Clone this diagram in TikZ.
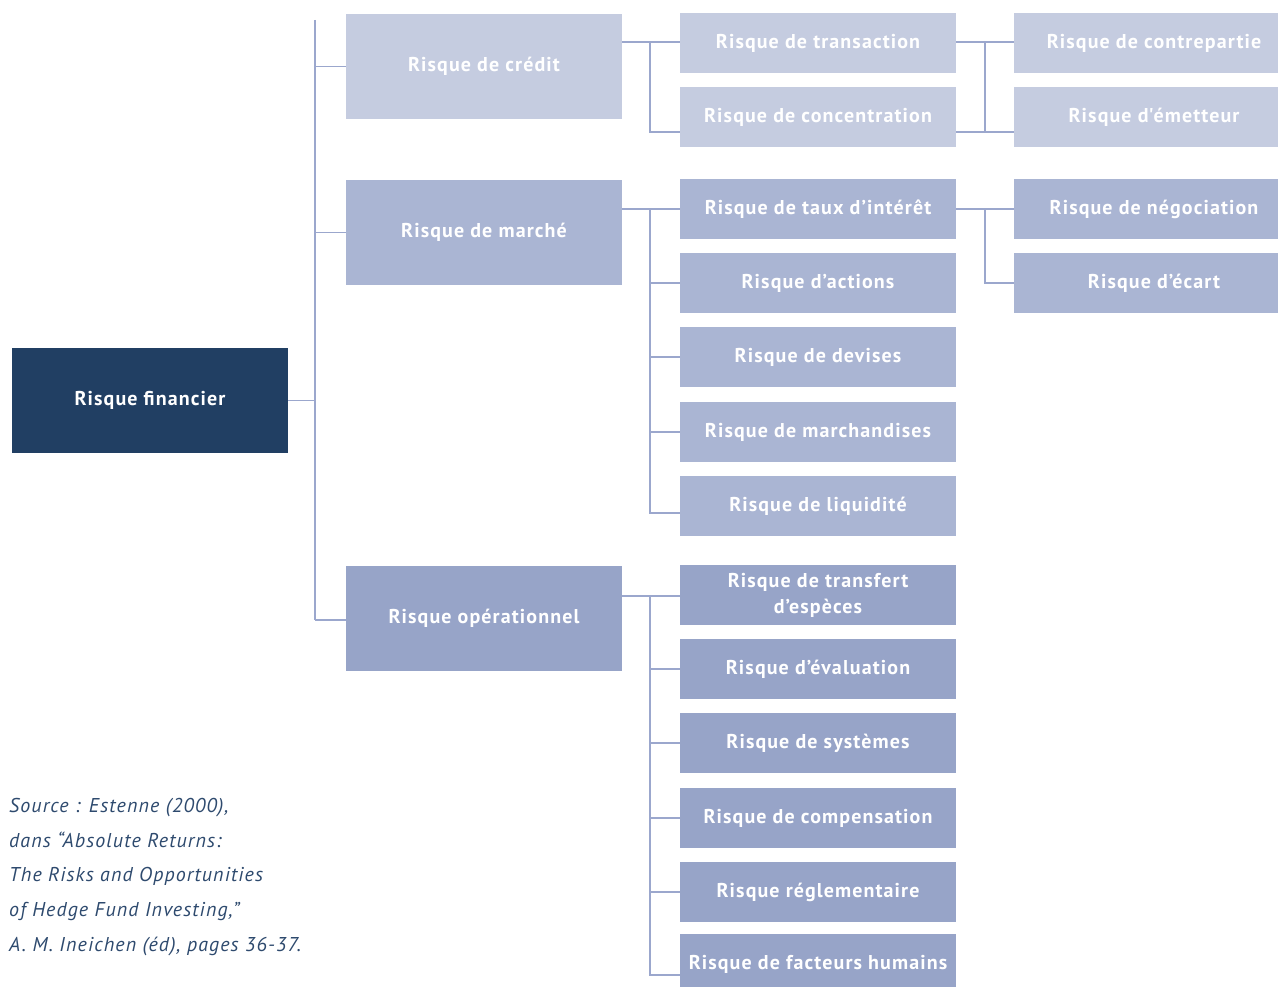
\documentclass[tikz,border=0pt]{standalone}
\usepackage{fontspec}
\setmainfont{PT Sans}[LetterSpace=5.5]
\usetikzlibrary{calc}
\definecolor{cA}{HTML}{C5CCE0}
\definecolor{cB}{HTML}{AAB5D3}
\definecolor{cC}{HTML}{97A4C8}
\definecolor{cD}{HTML}{213F63}
\definecolor{cL}{HTML}{9BA7CD}
\definecolor{cT}{HTML}{2E4A6E}
\tikzset{
  rbox/.style={rectangle, inner sep=0pt, outer sep=0pt, anchor=north west,
    text=white, font=\fontsize{20}{27}\selectfont\bfseries, align=center},
  big/.style={rbox, minimum width=276pt, minimum height=105pt},
  small/.style={rbox, minimum width=276pt, minimum height=60pt},
  third/.style={rbox, minimum width=280pt, minimum height=60pt},
  link/.style={draw=cL, line width=1.8pt},
  captxt/.style={anchor=base west, inner sep=0pt, text=cT, font=\fontsize{20}{24}\selectfont\itshape}
}
\begin{document}
\begin{tikzpicture}[x=1pt,y=-1pt]
\useasboundingbox (0,0) rectangle (1278,987);
% root
\node[big, fill=cD] (fin) at (12,348) {Risque financier};
% level 1
\node[big, fill=cA] (cred) at (346,14) {Risque de crédit};
\node[big, fill=cB] (march) at (346,180) {Risque de marché};
\node[big, fill=cC] (oper) at (346,566) {Risque opérationnel};
% level 2 credit
\node[small, fill=cA] (trans) at (680,13) {Risque de transaction};
\node[small, fill=cA] (conc) at (680,87) {Risque de concentration};
% level 2 market
\node[small, fill=cB] (taux) at (680,179) {Risque de taux d’intérêt};
\node[small, fill=cB] (act) at (680,253) {Risque d’actions};
\node[small, fill=cB] (dev) at (680,327) {Risque de devises};
\node[small, fill=cB] (marchand) at (680,402) {Risque de marchandises};
\node[small, fill=cB] (liq) at (680,476) {Risque de liquidité};
% level 2 operational
\node[small, fill=cC] (transf) at (680,565) {Risque de transfert\\[-1pt]d’espèces};
\node[small, fill=cC] (eval) at (680,639) {Risque d’évaluation};
\node[small, fill=cC] (sys) at (680,713) {Risque de systèmes};
\node[small, fill=cC] (comp) at (680,788) {Risque de compensation};
\node[small, fill=cC] (regl) at (680,862) {Risque réglementaire};
\node[small, fill=cC] (hum) at (680,934) {Risque de facteurs humains};
% level 3
\node[third, fill=cA] (contre) at (1014,13) {Risque de contrepartie};
\node[third, fill=cA] (emet) at (1014,87) {Risque d\textquotesingle émetteur};
\node[third, fill=cB] (nego) at (1014,179) {Risque de négociation};
\node[third, fill=cB] (ecart) at (1014,253) {Risque d’écart};
% trunk
\coordinate (t0) at (315,20);
\coordinate (t1) at (315,620);
\draw[link] (t0) -- (t1);
\draw[link] (fin.east) -- (fin.east -| t0);
\draw[link] (cred.west -| t0) -- (cred.west);
\draw[link] (march.west -| t0) -- (march.west);
\draw[link] (oper.west |- t1) -- (t1);
% credit -> children
\coordinate (ca) at (650,42);
\coordinate (cb) at (650,132);
\draw[link] (cred.east |- ca) -- (trans.west |- ca);
\draw[link] (ca) -- (cb) -- (conc.west |- cb);
% transaction -> level 3
\coordinate (da) at (985,42);
\coordinate (db) at (985,132);
\draw[link] (trans.east |- da) -- (contre.west |- da);
\draw[link] (da) -- (db);
\draw[link] (conc.east |- db) -- (emet.west |- db);
% market -> children
\coordinate (ma) at (650,209);
\coordinate (mb) at (650,513);
\draw[link] (march.east |- ma) -- (taux.west |- ma);
\draw[link] (ma) -- (mb) -- (liq.west |- mb);
\draw[link] (act.west -| ma) -- (act.west);
\draw[link] (dev.west -| ma) -- (dev.west);
\draw[link] (marchand.west -| ma) -- (marchand.west);
% taux -> level 3
\coordinate (na) at (985,209);
\coordinate (nb) at (985,283);
\draw[link] (taux.east |- na) -- (nego.west |- na);
\draw[link] (na) -- (nb) -- (ecart.west |- nb);
% operational -> children
\coordinate (oa) at (650,596);
\coordinate (ob) at (650,975);
\draw[link] (oper.east |- oa) -- (transf.west |- oa);
\draw[link] (oa) -- (ob) -- (hum.west |- ob);
\draw[link] (eval.west -| oa) -- (eval.west);
\draw[link] (sys.west -| oa) -- (sys.west);
\draw[link] (comp.west -| oa) -- (comp.west);
\draw[link] (regl.west -| oa) -- (regl.west);
% caption
\node[captxt] (s1) at (9,812) {Source : Estenne (2000),};
\node[captxt] (s2) at (9,847) {dans “Absolute Returns:};
\node[captxt] (s3) at (9,881) {The Risks and Opportunities};
\node[captxt] (s4) at (9,916) {of Hedge Fund Investing,”};
\node[captxt] (s5) at (9,951) {A. M. Ineichen (éd), pages 36-37.};
\end{tikzpicture}
\end{document}
